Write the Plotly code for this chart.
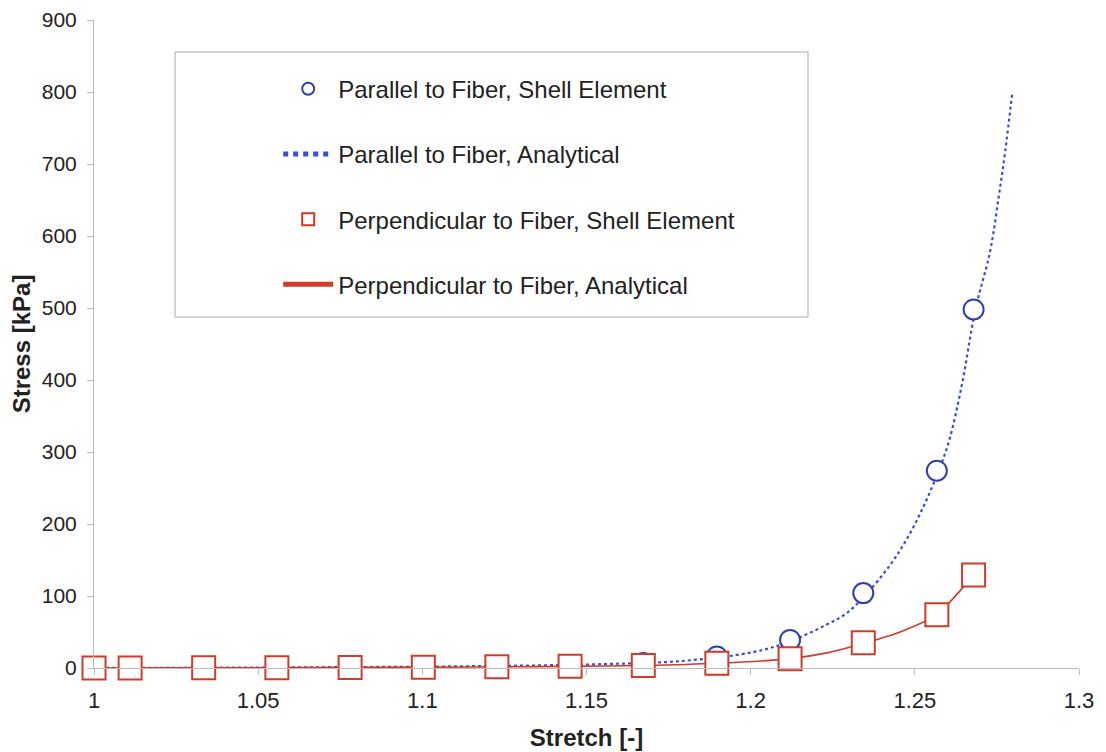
import plotly.graph_objects as go

# Shell element results (FE points)
stretch_fe = [1.0, 1.011, 1.0334, 1.0557, 1.078, 1.1003, 1.1227, 1.145, 1.1673, 1.1897, 1.212, 1.2343, 1.2567, 1.2679]
par_fe = [0, 0.1, 0.3, 0.5, 0.8, 1.3, 2.0, 3.5, 7, 16, 39, 104, 274, 498]
perp_fe = [0, 0.1, 0.3, 0.5, 0.8, 1.2, 1.7, 2.3, 3.5, 6.5, 13, 35, 74, 129]

# Analytical curves
stretch_par_an = [1.0, 1.0223, 1.0446, 1.0669, 1.0892, 1.1115, 1.1338, 1.1561, 1.1784, 1.2007, 1.212,
                  1.223, 1.2292, 1.2351, 1.2423, 1.2473, 1.2523, 1.257, 1.2604, 1.2644, 1.2684,
                  1.2729, 1.2755, 1.2775, 1.2797]
par_an = [0, 0.3, 0.6, 1.0, 1.5, 2.3, 3.5, 5.5, 9.5, 22, 37,
          60, 76, 102, 142, 177, 221, 271, 315, 395, 497,
          578, 653, 717, 800]
stretch_perp_an = [1.0, 1.011, 1.0334, 1.0557, 1.078, 1.1003, 1.1227, 1.145, 1.1673, 1.1897, 1.212,
                   1.2232, 1.2343, 1.2455, 1.2567, 1.2679]
perp_an = [0, 0.1, 0.3, 0.5, 0.8, 1.2, 1.7, 2.3, 3.5, 6.5, 13, 21, 34, 50, 74, 129]

names = ["Parallel to Fiber, Shell Element", "Parallel to Fiber, Analytical",
         "Perpendicular to Fiber, Shell Element", "Perpendicular to Fiber, Analytical"]

BLUE = "#2f3fb0"
BLUE_LINE = "#3a4fd6"
RED = "#d23a2a"

fig = go.Figure()
fig.add_trace(go.Scatter(x=stretch_par_an, y=par_an, mode="lines", name=names[1],
                         line=dict(color=BLUE_LINE, width=2.2, dash="dot", shape="spline"),
                         legendrank=2, legendgroup="b"))
fig.add_trace(go.Scatter(x=stretch_perp_an, y=perp_an, mode="lines", name=names[3],
                         line=dict(color=RED, width=1.6, shape="spline", smoothing=0.6),
                         legendrank=4, legendgroup="d"))
fig.add_trace(go.Scatter(x=stretch_fe, y=par_fe, mode="markers", name=names[0],
                         marker=dict(symbol="circle", size=20, color="white",
                                     line=dict(color=BLUE, width=2)),
                         legendrank=1, legendgroup="a"))
fig.add_trace(go.Scatter(x=stretch_fe, y=perp_fe, mode="markers", name=names[2],
                         marker=dict(symbol="square", size=23, color="white",
                                     line=dict(color=RED, width=2)),
                         legendrank=3, legendgroup="c"))

fig.update_traces(cliponaxis=False)

# plot-area geometry in page pixels (figure is offset 8px by the page body)
PL, PT, PW, PH = 94, 20, 985, 648
PB = PT + PH

fig.update_layout(
    width=1106, height=752,
    margin=dict(l=86, r=35, t=12, b=92),
    paper_bgcolor="white", plot_bgcolor="white",
    font=dict(family="Liberation Sans, Arial, sans-serif", color="#222", size=20),
    showlegend=True,
    legend=dict(x=0.187, y=0.928, xanchor="left", yanchor="top",
                bgcolor="rgba(0,0,0,0)", borderwidth=0,
                font=dict(size=24, color="#222"),
                tracegroupgap=31, itemwidth=50, itemsizing="constant"),
    xaxis=dict(range=[1, 1.3], dtick=0.05, tick0=1, showgrid=False, zeroline=False,
               showline=True, linecolor="#bbbbbb", linewidth=1, automargin=False,
               ticks="outside", ticklen=6, tickcolor="#bbbbbb", ticklabeloverflow="allow",
               tickfont=dict(size=22, color="#222"), ticklabelstandoff=7,
               title=dict(text="<b>Stretch [-]</b>", font=dict(size=24, color="#222"), standoff=16)),
    yaxis=dict(range=[0, 900], dtick=100, showgrid=False, zeroline=False,
               showline=True, linecolor="#bbbbbb", linewidth=1, automargin=False,
               ticks="outside", ticklen=6, tickcolor="#bbbbbb", ticklabeloverflow="allow",
               tickfont=dict(size=21, color="#222"), ticklabelstandoff=6,
               title=dict(text="<b>Stress [kPa]</b>", font=dict(size=24, color="#222"), standoff=6)),
    shapes=[dict(type="rect", xref="paper", yref="paper",
                 x0=(175 - PL) / PW, x1=(808 - PL) / PW,
                 y0=(PB - 317) / PH, y1=(PB - 52) / PH,
                 line=dict(color="#aaaaaa", width=1), fillcolor="rgba(0,0,0,0)", layer="below")],
)

fig.write_html("out.html")
